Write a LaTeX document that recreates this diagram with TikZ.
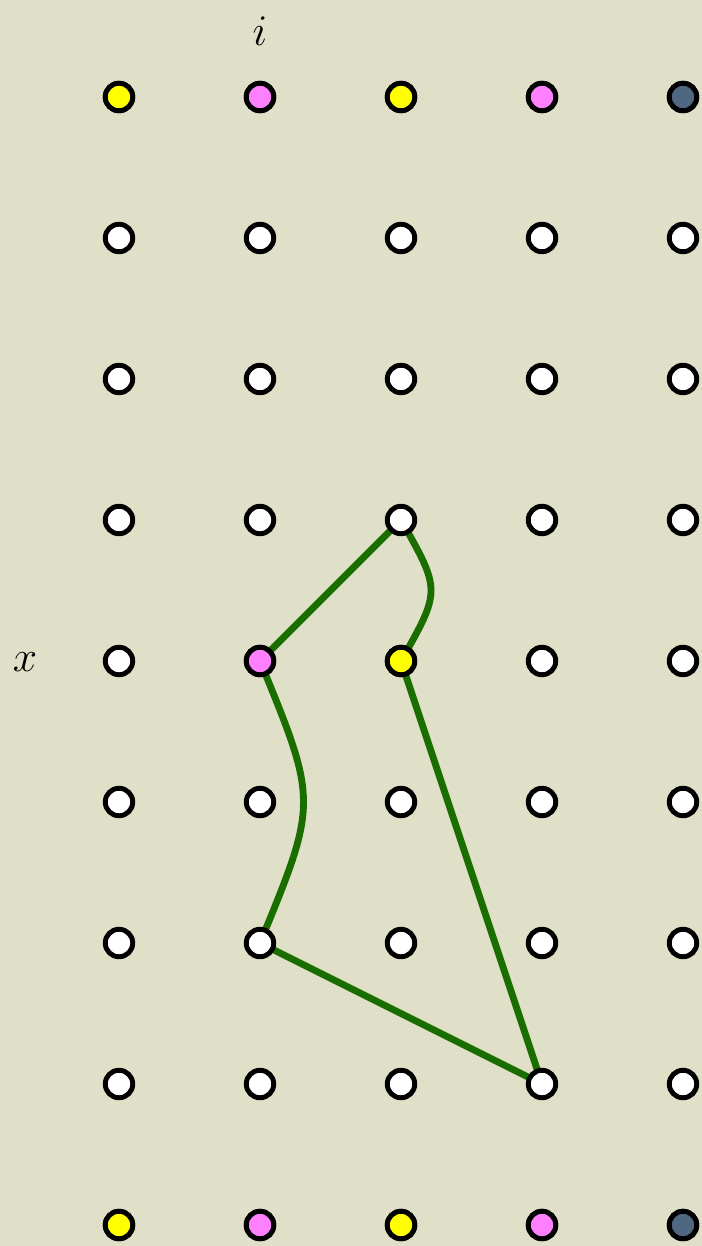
\documentclass[tikz,border=0pt]{standalone}
\definecolor{bg}{RGB}{224,224,200}
\definecolor{pathgreen}{RGB}{26,110,0}
\definecolor{dotpink}{RGB}{255,128,255}
\definecolor{dotyellow}{RGB}{255,255,0}
\definecolor{dotslate}{RGB}{79,103,128}
\begin{document}
\begin{tikzpicture}[x=0.02cm,y=-0.02cm,
  dot/.style={circle,draw=black,line width=2.8pt,minimum size=0.55cm,inner sep=0pt,fill=white},
  link/.style={draw=pathgreen,line width=3.9pt},
  lbl/.style={font=\fontsize{35}{42}\selectfont}]
\fill[bg] (0,0) rectangle (702,1246);
\useasboundingbox (0,0) rectangle (702,1246);
% grid of dots
\foreach \c [count=\ci] in {119,260,401,542,683}{
  \foreach \r [count=\ri] in {97,238,379,520,661,802,943,1084,1225}{
    \coordinate (p\ci-\ri) at (\c,\r);
  }
}
\coordinate (ctrlA) at (441,590.5);
\coordinate (ctrlB) at (318,802);
% connectors (under dots)
\draw[link] (p3-4) -- (p2-5);
\draw[link] (p3-4) .. controls (ctrlA) .. (p3-5);
\draw[link] (p2-5) .. controls (ctrlB) .. (p2-7);
\draw[link] (p3-5) -- (p4-8);
\draw[link] (p2-7) -- (p4-8);
% dots
\foreach \ci in {1,...,5}{
  \foreach \ri in {1,...,9}{
    \node[dot] (n\ci-\ri) at (p\ci-\ri) {};
  }
}
\foreach \ri in {1,9}{
  \node[dot,fill=dotyellow] at (p1-\ri) {};
  \node[dot,fill=dotpink] at (p2-\ri) {};
  \node[dot,fill=dotyellow] at (p3-\ri) {};
  \node[dot,fill=dotpink] at (p4-\ri) {};
  \node[dot,fill=dotslate] at (p5-\ri) {};
}
\node[dot,fill=dotpink] (pinkmid) at (p2-5) {};
\node[dot,fill=dotyellow] (yellowmid) at (p3-5) {};
% labels
\node[lbl] (ilabel) at (260,31) {$i$};
\node[lbl] (xlabel) at (25,662) {$x$};
\end{tikzpicture}
\end{document}
